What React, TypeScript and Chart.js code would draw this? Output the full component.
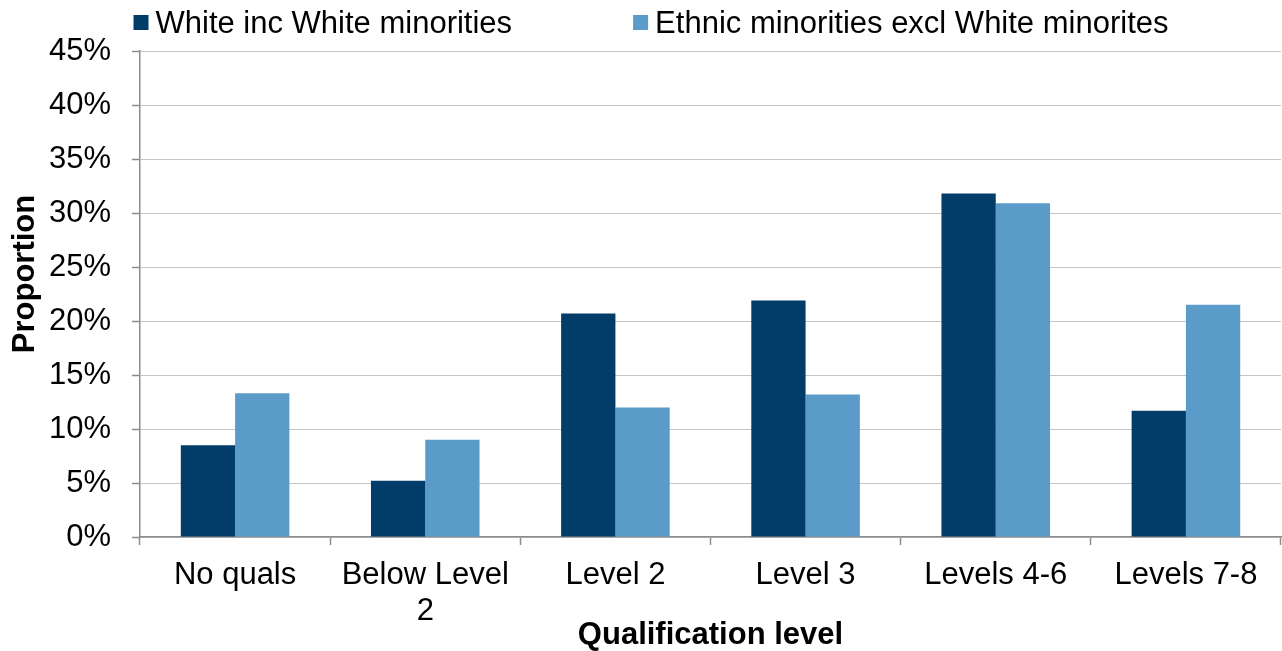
import React, { useEffect, useRef } from "react";
import { Chart, registerables } from "chart.js";

Chart.register(...registerables);

// Qualification levels (multi-line labels are given as arrays)
const categories: (string | string[])[] = [
  "No quals",
  ["Below Level", "2"],
  "Level 2",
  "Level 3",
  "Levels 4-6",
  "Levels 7-8",
];

// Share of each group by highest qualification, in percent
const whiteValues = [8.5, 5.2, 20.7, 21.9, 31.8, 11.7];
const ethnicValues = [13.3, 9.0, 12.0, 13.2, 30.9, 21.5];

const seriesNames = [
  "White inc White minorities",
  "Ethnic minorities excl White minorites",
];
const seriesColors = ["#023D6A", "#5B9BC9"];

// Value axis range and step
const yMax = 45;
const yStep = 5;

const yTitle = "Proportion";
const xTitle = "Qualification level";

const FONT_FAMILY = "'Liberation Sans', Arial, Helvetica, sans-serif";
const FONT_SIZE = 31;
const AXIS_GREY = "#8C8C8C";
const GRID_GREY = "#C4C4C4";

// Legend drawn as one centred row above the plot, with wide spacing between entries,
// plus the rotated value-axis title sitting a little above the plot's middle
const annotations = {
  id: "annotations",
  afterDraw(chart: any) {
    const ctx: CanvasRenderingContext2D = chart.ctx;
    const box = 15;
    const textGap = 7;
    const itemGap = 121;
    ctx.save();
    ctx.font = `${FONT_SIZE}px ${FONT_FAMILY}`;
    const items = chart.data.datasets.map((ds: any) => ({
      label: ds.label as string,
      color: ds.backgroundColor as string,
      w: ctx.measureText(ds.label).width,
    }));
    const total = items.reduce(
      (s: number, it: any, i: number) => s + box + textGap + it.w + (i ? itemGap : 0),
      0
    );
    let x = chart.width / 2 + 10 - total / 2;
    ctx.textAlign = "left";
    ctx.textBaseline = "alphabetic";
    items.forEach((it: any) => {
      ctx.fillStyle = it.color;
      ctx.fillRect(x, 15, box, box);
      x += box + textGap;
      ctx.fillStyle = "#000";
      ctx.fillText(it.label, x, 33);
      x += it.w + itemGap;
    });

    const area = chart.chartArea;
    ctx.translate(25, (area.top + area.bottom) / 2 - 20);
    ctx.rotate(-Math.PI / 2);
    ctx.font = `bold ${FONT_SIZE}px ${FONT_FAMILY}`;
    ctx.textAlign = "center";
    ctx.textBaseline = "middle";
    ctx.fillText(yTitle, 0, 0);
    ctx.restore();
  },
};

export default function App() {
  const canvasRef = useRef<HTMLCanvasElement | null>(null);

  useEffect(() => {
    if (!canvasRef.current) return;
    const chart = new Chart(canvasRef.current, {
      type: "bar",
      data: {
        labels: categories,
        datasets: [
          {
            label: seriesNames[0],
            data: whiteValues,
            backgroundColor: seriesColors[0],
            borderWidth: 0,
          },
          {
            label: seriesNames[1],
            data: ethnicValues,
            backgroundColor: seriesColors[1],
            borderWidth: 0,
          },
        ],
      },
      options: {
        animation: false,
        responsive: false,
        layout: { padding: { top: 51, right: 1, left: 0, bottom: 0 } },
        datasets: { bar: { categoryPercentage: 0.571, barPercentage: 1 } },
        plugins: {
          legend: { display: false },
          tooltip: { enabled: false },
        },
        scales: {
          x: {
            grid: {
              offset: true,
              drawOnChartArea: false,
              drawTicks: true,
              tickLength: 8,
              tickColor: AXIS_GREY,
              tickWidth: 1.5,
            },
            border: { color: AXIS_GREY, width: 1.5 },
            ticks: {
              color: "#000",
              font: { family: FONT_FAMILY, size: FONT_SIZE, lineHeight: 1.15 },
              padding: 13,
              maxRotation: 0,
              autoSkip: false,
            },
            title: {
              display: true,
              text: xTitle,
              color: "#000",
              font: { family: FONT_FAMILY, size: FONT_SIZE, weight: "bold", lineHeight: 1 },
              padding: 0,
            },
            afterFit: (s: any) => {
              s.height = 114;
            },
          },
          y: {
            min: 0,
            max: yMax,
            ticks: {
              stepSize: yStep,
              callback: (v: any) => `${v}%`,
              color: "#000",
              font: { family: FONT_FAMILY, size: FONT_SIZE },
              padding: 21,
            },
            grid: {
              color: GRID_GREY,
              lineWidth: 1,
              tickLength: 8,
              tickColor: AXIS_GREY,
              tickWidth: 1.5,
            },
            border: { color: AXIS_GREY, width: 1.5 },
            title: { display: false },
            afterFit: (s: any) => {
              s.width = 140;
            },
          },
        },
      },
      plugins: [annotations],
    });
    return () => chart.destroy();
  }, []);

  return (
    <div style={{ position: "absolute", left: 0, top: 0, width: 1282, height: 651, background: "#fff" }}>
      <canvas ref={canvasRef} width={1282} height={651} style={{ display: "block" }} />
    </div>
  );
}
